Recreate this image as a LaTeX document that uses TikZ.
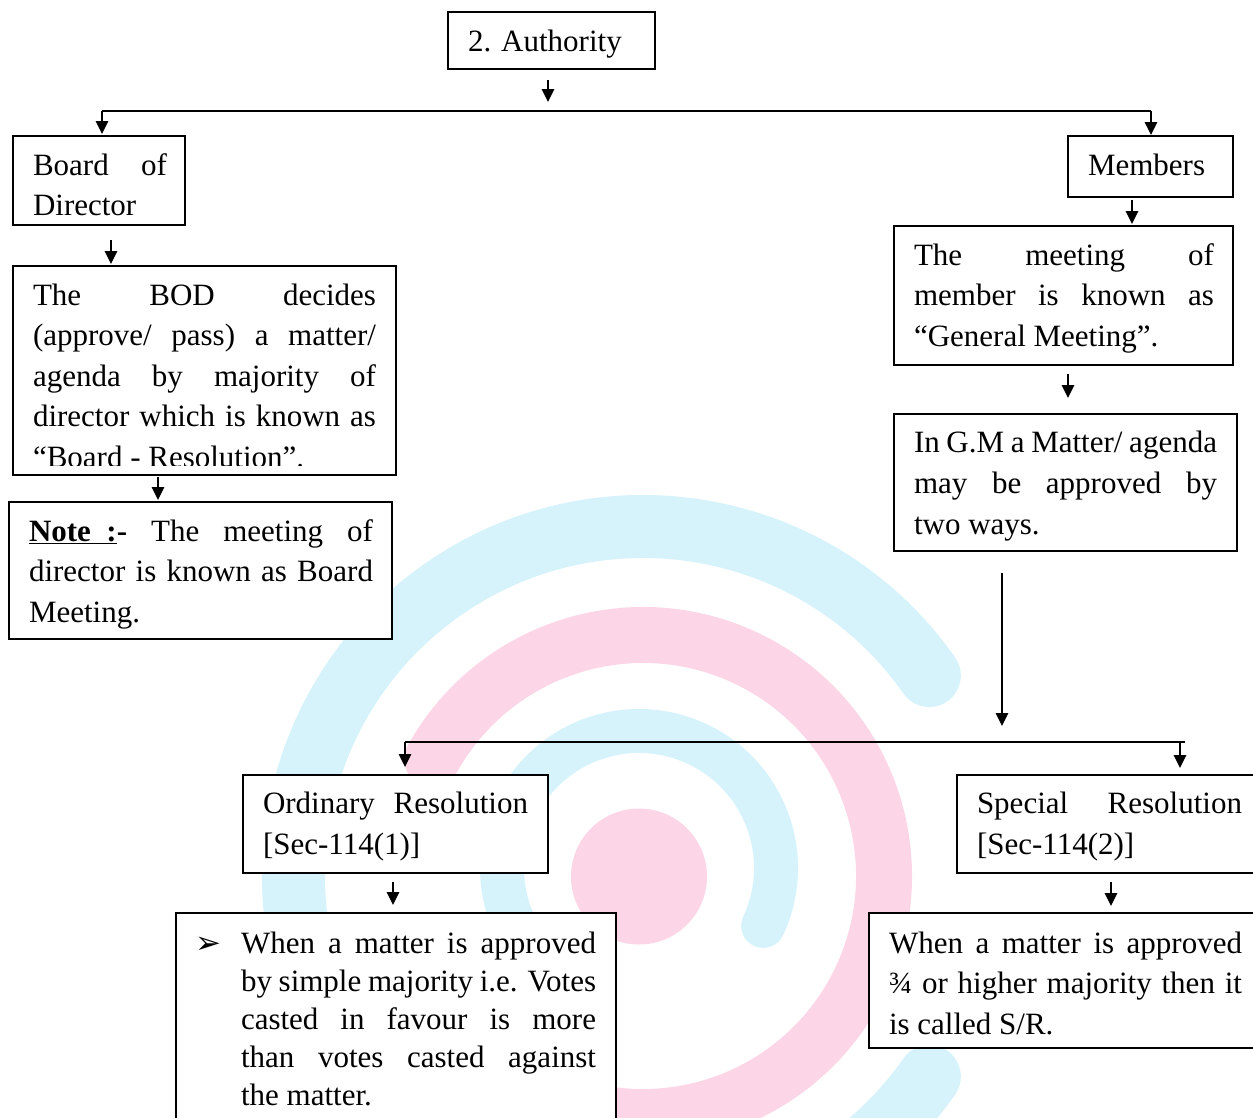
\documentclass[tikz,border=0pt]{standalone}
\usepackage{fontspec}
\setmainfont{Liberation Serif}
\newfontfamily\dingfont{DejaVu Sans}
\usetikzlibrary{arrows.meta}
\definecolor{wmcyan}{RGB}{214,243,252}
\definecolor{wmpink}{RGB}{252,214,230}
% a justified line of the given paragraph width
\newcommand\jline[1]{\makebox[\linewidth][s]{#1}}
% a block of lines: width, line spacing, lines
\newcommand\textblock[3]{\parbox[t]{#1}{\fontsize{31}{#2}\selectfont #3}}
\begin{document}
\begin{tikzpicture}[x=1pt,y=1pt,
  box/.style={draw, line width=1.5pt, fill=white, inner sep=0pt, outer sep=0pt, anchor=north west},
  txt/.style={inner sep=0pt, outer sep=0pt, anchor=base west, font=\fontsize{31}{40.5}\selectfont},
  wire/.style={line width=1.6pt},
  arr/.style={line width=1.6pt, -{Triangle[length=13pt,width=12.5pt]}}]
\useasboundingbox (0,0) rectangle (1253,-1117);
\fill[white] (0,0) rectangle (1253,-1117);

% background logo: rings and centre dot
\coordinate (wc) at (643,-876);
\coordinate (wci) at (639,-868);
\draw[wmcyan, line width=63pt, line cap=round] ([shift={(35:349.5)}]wc) arc[start angle=35, end angle=325, radius=349.5];
\draw[wmpink, line width=56pt, line cap=round] ([shift={(151:241)}]wc) arc[start angle=151, end angle=-120, radius=241];
\draw[wmcyan, line width=44pt, line cap=round] ([shift={(-25:137)}]wci) arc[start angle=-25, end angle=235, radius=137];
\fill[wmpink] (639,-876.5) circle[radius=68];

% boxes
\node[box, minimum width=207pt, minimum height=57pt]  (auth)    at (448,-12)  {};
\node[box, minimum width=172pt, minimum height=89pt]  (bodir)   at (13,-136)  {};
\node[box, minimum width=165pt, minimum height=61pt]  (members) at (1068,-136) {};
\node[box, minimum width=383pt, minimum height=209pt] (bod)     at (13,-266)  {};
\node[box, minimum width=383pt, minimum height=137pt] (note)    at (9,-502)   {};
\node[box, minimum width=339pt, minimum height=139pt] (meet)    at (894,-226) {};
\node[box, minimum width=343pt, minimum height=137pt] (gm)      at (894,-414) {};
\node[box, minimum width=305pt, minimum height=98pt]  (ord)     at (243,-775) {};
\node[box, minimum width=305pt, minimum height=98pt]  (spec)    at (957,-775) {};
\node[box, minimum width=440pt, minimum height=215pt] (whenA)   at (176,-913) {};
\node[box, minimum width=393pt, minimum height=135pt] (whenB)   at (869,-913) {};

% texts
\node[txt] (autht) at (468,-51) {2.\hspace{10pt}Authority};
\node[txt] (bodirt) at (33,-175) {\textblock{134pt}{40.5pt}{\jline{Board of}\\ Director}};
\node[txt] (memberst) at (1088,-175) {Members};
\begin{scope}
  \clip (13,-266) rectangle (396,-465);
  \node[txt] (bodt) at (33,-305) {\textblock{343pt}{40.5pt}{%
    \jline{The BOD decides}\\
    \jline{(approve/ pass) a matter/}\\
    \jline{agenda by majority of}\\
    \jline{director which is known as}\\
    “Board - Resolution”.}};
\end{scope}
\node[txt] (notet) at (29,-541) {\textblock{344pt}{40.5pt}{%
    \jline{\textbf{\underline{Note\ \ :}-} The meeting of}\\
    \jline{director is known as Board}\\
    Meeting.}};
\node[txt] (meett) at (914,-265) {\textblock{300pt}{40.5pt}{%
    \jline{The meeting of}\\
    \jline{member is known as}\\
    “General Meeting”.}};
\node[txt] (gmt) at (914,-452) {\textblock{303pt}{41pt}{%
    \jline{In G.M a Matter/ agenda}\\
    \jline{may be approved by}\\
    two ways.}};
\node[txt] (ordt) at (263,-813) {\textblock{265pt}{41pt}{%
    \jline{Ordinary Resolution}\\
    {[Sec-114(1)]}}};
\node[txt] (spect) at (977,-813) {\textblock{265pt}{41pt}{%
    \jline{Special Resolution}\\
    {[Sec-114(2)]}}};
\node[txt, font=\dingfont\fontsize{31}{31}\selectfont] (bullet) at (195,-953) {➢};
\node[txt] (whenAt) at (241,-953) {\textblock{355pt}{38pt}{%
    \jline{When a matter is approved}\\
    \jline{by simple majority i.e. Votes}\\
    \jline{casted in favour is more}\\
    \jline{than votes casted against}\\
    the matter.}};
\node[txt] (whenBt) at (889,-953) {\textblock{353pt}{40.5pt}{%
    \jline{When a matter is approved}\\
    \jline{¾ or higher majority then it}\\
    is called S/R.}};

% connectors
\coordinate (busL) at (102,-111);
\coordinate (busR) at (1151,-111);
\coordinate (split) at (1002,-742);
\coordinate (bus2L) at (405,-742);
\coordinate (bus2R) at (1185,-742);

\draw[arr, shorten <=11pt, shorten >=9pt] ([xshift=-3.5pt]auth.south) -- ([xshift=-3.5pt]auth.south |- busL);
\draw[wire] (busL) -- (busR);
\draw[arr, shorten >=2pt] (busL) -- (busL |- bodir.north);
\draw[arr, shorten >=1pt] (busR) -- (busR |- members.north);
\draw[arr, shorten <=15pt, shorten >=2pt] ([xshift=12pt]bodir.south) -- ([xshift=12pt]bodir.south |- bod.north);
\draw[arr, shorten <=2pt, shorten >=2pt] ([xshift=-46.5pt]bod.south) -- ([xshift=-46.5pt]bod.south |- note.north);
\draw[arr, shorten <=3pt, shorten >=2pt] ([xshift=-18.5pt]members.south) -- ([xshift=-18.5pt]members.south |- meet.north);
\draw[arr, shorten <=9pt, shorten >=16pt] ([xshift=4.5pt]meet.south) -- ([xshift=4.5pt]meet.south |- gm.north);
\draw[arr, shorten <=22pt, shorten >=16pt] (gm.south -| split) -- (split);
\draw[wire] (bus2L) -- (bus2R);
\draw[arr, shorten >=8pt] (bus2L) -- (bus2L |- ord.north);
\draw[arr, shorten >=7pt] ([xshift=-5pt]bus2R) -- ([xshift=-5pt]bus2R |- spec.north);
\draw[arr, shorten <=9pt, shorten >=8pt] ([xshift=-2.5pt]ord.south) -- ([xshift=-2.5pt]ord.south |- whenA.north);
\draw[arr, shorten <=9pt, shorten >=7pt] ([xshift=1.5pt]spec.south) -- ([xshift=1.5pt]spec.south |- whenB.north);
\end{tikzpicture}
\end{document}
